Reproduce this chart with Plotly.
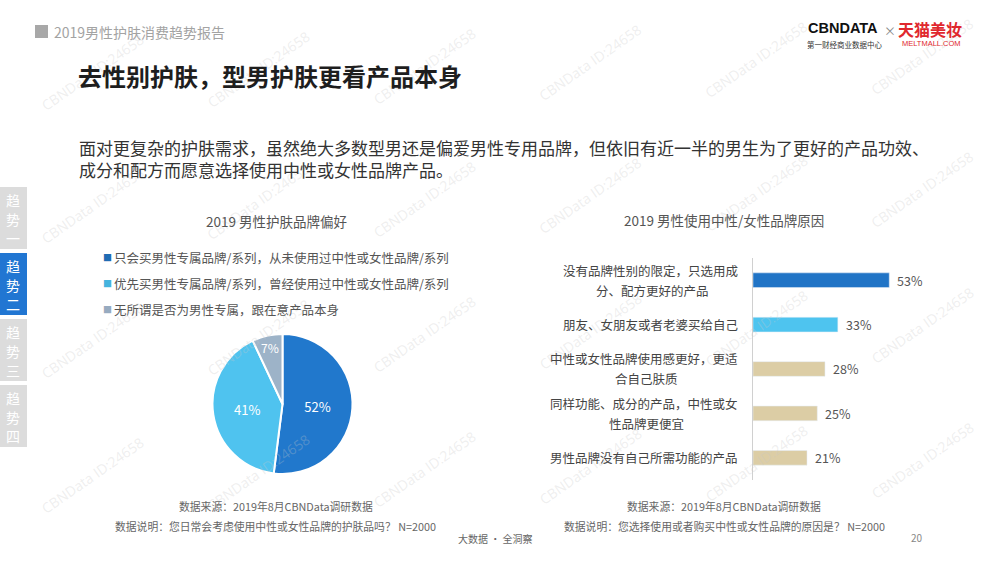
import plotly.graph_objects as go

W, H = 1000, 563
FONT = "Noto Sans CJK SC"

# pie: brand preference
pie_labels = ["只会买男性专属品牌/系列，从未使用过中性或女性品牌/系列",
              "优先买男性专属品牌/系列，曾经使用过中性或女性品牌/系列",
              "无所谓是否为男性专属，跟在意产品本身"]
pie_values = [52, 41, 7]
pie_colors = ["#2178cc", "#4fc3ef", "#9db3c8"]
legend_colors = ["#1f6cb3", "#45b4de", "#97abc0"]

# bar: reasons
bar_keys = ["r1", "r2", "r3", "r4", "r5"]
bar_lines = [["没有品牌性别的限定，只选用成", "分、配方更好的产品"],
             ["朋友、女朋友或者老婆买给自己"],
             ["中性或女性品牌使用感更好，更适", "合自己肤质"],
             ["同样功能、成分的产品，中性或女", "性品牌更便宜"],
             ["男性品牌没有自己所需功能的产品"]]
bar_values = [53, 33, 28, 25, 21]
bar_colors = ["#2174c6", "#4ec4ef", "#dccda5", "#dccda5", "#dccda5"]

tabs = ["趋势一", "趋势二", "趋势三", "趋势四"]
active_tab = 1


def px(x):
    return x / W


def py(y):
    return 1 - y / H


fig = go.Figure()

fig.add_trace(go.Pie(
    values=pie_values, labels=pie_labels, sort=False, direction="clockwise",
    marker=dict(colors=pie_colors, line=dict(color="white", width=2)),
    texttemplate="%{value}%", textposition="inside", insidetextorientation="horizontal",
    textfont=dict(color="white", size=13, family=FONT),
    domain=dict(x=[px(212), px(353)], y=[py(474), py(334)]),
    showlegend=False, hoverinfo="label+value",
))

fig.add_trace(go.Bar(
    x=bar_values, y=bar_keys, orientation="h", width=0.33,
    marker=dict(color=bar_colors), showlegend=False, hoverinfo="x",
))

annotations = []


def txt(x, y, s, size, color, xanchor="center", **kw):
    annotations.append(dict(x=px(x), y=py(y), xref="paper", yref="paper", text=s,
                            showarrow=False, xanchor=xanchor, yanchor="middle",
                            font=dict(size=size, color=color, family=kw.pop("family", FONT)), **kw))


# watermarks
for j, cy in enumerate([72, 205, 340, 475]):
    for i in range(6):
        cx = 92 + 166 * i
        txt(cx, cy - i * 3, "CBNData ID:24658", 14, "rgba(200,200,200,0.3)", textangle=-35,
            family="Open Sans")

# header
txt(52, 32, "2019男性护肤消费趋势报告", 14, "#a3a3a3", xanchor="left")
txt(76, 76, "<b>去性别护肤，型男护肤更看产品本身</b>", 24, "#1e1e1e", xanchor="left")
txt(77, 147, "面对更复杂的护肤需求，虽然绝大多数型男还是偏爱男性专用品牌，但依旧有近一半的男生为了更好的产品功效、",
    17, "#333333", xanchor="left")
txt(77, 170, "成分和配方而愿意选择使用中性或女性品牌产品。", 17, "#333333", xanchor="left")

# logo
txt(806, 28, "<b>CBNDATA</b>", 14.5, "#111111", xanchor="left", family="Liberation Sans")
txt(844, 45, "第一财经商业数据中心", 7.5, "#333333")
txt(890, 30, "×", 12, "#888888")
txt(930, 29, "<b>天猫美妆</b>", 16, "#e0282e")
txt(931, 43, "MELTMALL.COM", 7.5, "#e0282e", family="Liberation Sans")

# chart titles
txt(276, 221, "2019 男性护肤品牌偏好", 13.5, "#555555")
txt(724, 220, "2019 男性使用中性/女性品牌原因", 13.5, "#555555")

# pie legend
for k, lab in enumerate(pie_labels):
    yy = 258 + 25.5 * k
    txt(107, yy, "■", 9, legend_colors[k])
    txt(112, yy, lab, 12.5, "#555555", xanchor="left")

# bar category labels and values
for k, lines in enumerate(bar_lines):
    if len(lines) == 1:
        annotations.append(dict(x=px(740), y=bar_keys[k], xref="paper", yref="y", text=lines[0],
                                showarrow=False, xanchor="right", yanchor="middle",
                                font=dict(size=12.5, color="#444444", family=FONT)))
    else:
        c = 740 - len(lines[0]) * 12.5 / 2
        annotations.append(dict(x=px(740), y=bar_keys[k], xref="paper", yref="y", text=lines[0],
                                showarrow=False, xanchor="right", yanchor="middle", yshift=10,
                                font=dict(size=12.5, color="#444444", family=FONT)))
        annotations.append(dict(x=px(c), y=bar_keys[k], xref="paper", yref="y", text=lines[1],
                                showarrow=False, xanchor="center", yanchor="middle", yshift=-10,
                                font=dict(size=12.5, color="#444444", family=FONT)))
    annotations.append(dict(x=bar_values[k], y=bar_keys[k], xref="x", yref="y",
                            text=f"{bar_values[k]}%", showarrow=False, xanchor="left",
                            yanchor="middle", xshift=6,
                            font=dict(size=12.5, color="#555555", family=FONT)))

# footnotes
txt(276, 506, "数据来源：2019年8月CBNData调研数据", 10.8, "#666666")
txt(275, 526, "数据说明：您日常会考虑使用中性或女性品牌的护肤品吗？ N=2000", 10.8, "#666666")
txt(724, 506, "数据来源：2019年8月CBNData调研数据", 10.8, "#666666")
txt(724, 526, "数据说明：您选择使用或者购买中性或女性品牌的原因是？ N=2000", 10.8, "#666666")
txt(495, 538, "大数据 · 全洞察", 10, "#666666")
txt(917, 537, "20", 10, "#888888")

# side tabs
shapes = [dict(type="rect", xref="paper", yref="paper", x0=px(35), x1=px(48), y0=py(38), y1=py(25),
               fillcolor="#a8a8a8", line=dict(width=0))]
for k, t in enumerate(tabs):
    top = 187 + 66 * k
    shapes.append(dict(type="rect", xref="paper", yref="paper", x0=0, x1=px(27),
                       y0=py(top + 62), y1=py(top),
                       fillcolor="#2176d2" if k == active_tab else "#dcdcdc", line=dict(width=0)))
    for m, ch in enumerate(t):
        txt(13, top + 13 + 19 * m, ch, 14, "white")

fig.update_layout(
    width=W, height=H, margin=dict(l=0, r=0, t=0, b=0),
    paper_bgcolor="white", plot_bgcolor="white",
    font=dict(family=FONT),
    xaxis=dict(domain=[px(753), px(980)], range=[0, 88.3], showgrid=False, zeroline=False,
               showticklabels=False, fixedrange=True),
    yaxis=dict(domain=[py(480), py(258)], categoryorder="array", categoryarray=bar_keys,
               range=[4.5, -0.5], showgrid=False, zeroline=False, showticklabels=False,
               showline=True, linecolor="#d0d0d0", linewidth=1, ticks=""),
    annotations=annotations, shapes=shapes,
)

fig.write_html("out.html", config={"displayModeBar": False},
               post_script="document.body.style.margin='0';")
